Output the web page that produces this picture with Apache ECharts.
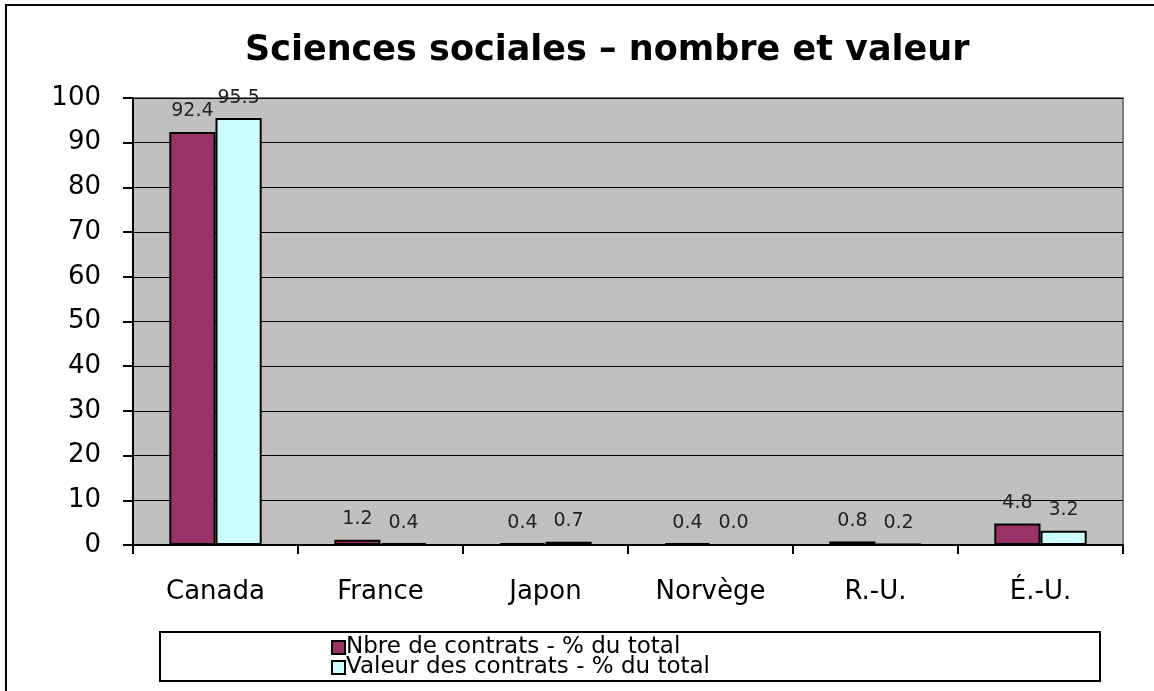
<!DOCTYPE html>
<html><head><meta charset="utf-8">
<script src="https://cdn.jsdelivr.net/npm/echarts@6/dist/echarts.min.js"></script>
<style>html,body{margin:0;padding:0;background:#fff}#c{width:1154px;height:691px}</style>
</head><body><div id="c"></div>
<script>
const categories = ['Canada', 'France', 'Japon', 'Norvège', 'R.-U.', 'É.-U.'];
const nbreContrats = [92.4, 1.2, 0.4, 0.4, 0.8, 4.8];
const valeurContrats = [95.5, 0.4, 0.7, 0.0, 0.2, 3.2];
const seriesNames = ['Nbre de contrats - % du total', 'Valeur des contrats - % du total'];
const titleText = 'Sciences sociales – nombre et valeur';

const chart = echarts.init(document.getElementById('c'), null, {renderer: 'canvas'});
const font = 'DejaVu Sans, Liberation Sans, sans-serif';
const labelCfg = {show: true, position: 'top', distance: 11, color: '#222', fontFamily: font, fontSize: 19,
  formatter: p => p.value.toFixed(1)};
chart.setOption({
  animation: false,
  backgroundColor: '#fff',
  title: {text: titleText, left: 240, top: 28,
    textStyle: {fontFamily: font, fontSize: 35, fontWeight: 'bold', color: '#000'}},
  graphic: [
    {type: 'rect', shape: {x: 6, y: 5, width: 1170, height: 710}, style: {fill: 'none', stroke: '#000', lineWidth: 2}, z: 0},
    {type: 'rect', shape: {x: 160, y: 632, width: 940, height: 49}, style: {fill: '#fff', stroke: '#000', lineWidth: 2}, z: 1}
  ],
  legend: {orient: 'vertical', left: 331, top: 636, padding: 0, itemGap: -3, itemWidth: 13, itemHeight: 13,
    icon: 'rect', z: 5,
    textStyle: {fontFamily: font, fontSize: 23, lineHeight: 20, color: '#000', padding: [0, 0, 0, -4]},
    data: seriesNames},
  grid: {left: 133, right: 31, top: 98, bottom: 146, show: true, backgroundColor: '#C0C0C0',
    borderColor: '#808080', borderWidth: 2},
  xAxis: {type: 'category', data: categories,
    axisLine: {lineStyle: {color: '#000', width: 2}},
    axisTick: {show: true, length: 9, lineStyle: {color: '#000', width: 2}, alignWithLabel: false},
    axisLabel: {margin: 34, color: '#000', fontFamily: font, fontSize: 26}},
  yAxis: {type: 'value', min: 0, max: 100, interval: 10,
    axisLine: {show: true, lineStyle: {color: '#000', width: 2}},
    axisTick: {show: true, length: 10, lineStyle: {color: '#000', width: 2}},
    splitLine: {lineStyle: {color: '#000', width: 1}},
    axisLabel: {margin: 32, color: '#000', fontFamily: font, fontSize: 26}},
  series: [
    {name: seriesNames[0], type: 'bar', data: nbreContrats, barGap: '0%', barCategoryGap: '44%',
      itemStyle: {color: '#993366', borderColor: '#000', borderWidth: 2}, label: labelCfg},
    {name: seriesNames[1], type: 'bar', data: valeurContrats,
      itemStyle: {color: '#CCFFFF', borderColor: '#000', borderWidth: 2}, label: labelCfg}
  ]
});
</script></body></html>
